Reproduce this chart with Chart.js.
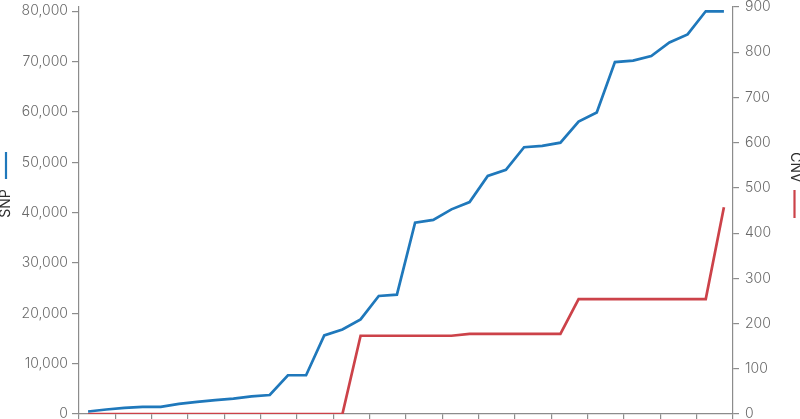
<!DOCTYPE html>
<html>
<head>
<meta charset="utf-8">
<script src="https://cdn.jsdelivr.net/npm/chart.js@4.4.1/dist/chart.umd.min.js"></script>
<style>
  html, body { margin: 0; padding: 0; background: #fff; }
  #wrap { width: 800px; height: 419px; position: relative; }
</style>
</head>
<body>
<div id="wrap"><canvas id="chart"></canvas></div>
<script>
// categorias (sem rótulos visíveis no original)
const samples = ['1', '2', '3', '4', '5', '6', '7', '8', '9', '10', '11', '12',
  '13', '14', '15', '16', '17', '18', '19', '20', '21', '22', '23', '24',
  '25', '26', '27', '28', '29', '30', '31', '32', '33', '34', '35', '36'];

// SNP acumulado (eixo esquerdo)
const snpValues = [500, 900, 1200, 1400, 1400, 2000, 2400, 2750, 3050, 3500, 3770, 7700,
  7700, 15600, 16800, 18800, 23450, 23700, 38000, 38550, 40650, 42100, 47300, 48500,
  53000, 53250, 53900, 58100, 59900, 69900, 70200, 71100, 73800, 75400, 80000, 80000];

// CNV acumulado (eixo direito)
const cnvValues = [0, 0, 0, 0, 0, 0, 0, 0, 0, 0, 0, 0,
  0, 0, 0, 173, 173, 173, 173, 173, 173, 177, 177, 177,
  177, 177, 177, 254, 254, 254, 254, 254, 254, 254, 254, 457];

const snpTicks = [0, 10000, 20000, 30000, 40000, 50000, 60000, 70000, 80000];
const cnvTicks = [0, 100, 200, 300, 400, 500, 600, 700, 800, 900];

const blue = '#1f78bb';
const red = '#cc4249';
const axisGrey = '#8c8c8c';
const labelGrey = '#6a6a6a';
const tickFont = { family: 'Inter, Lato, sans-serif', size: 14, weight: 300 };

// títulos dos eixos com o traço da legenda
const axisTitles = {
    id: 'axisTitles',
    afterDraw(chart) {
        const ctx = chart.ctx;
        ctx.save();
        ctx.font = '400 14px Inter, Lato, sans-serif';
        ctx.fillStyle = '#2e2e2e';
        ctx.textAlign = 'center';
        ctx.textBaseline = 'middle';

        ctx.save();
        ctx.translate(6, 203.5);
        ctx.rotate(-Math.PI / 2);
        ctx.fillText('SNP', 0, 0);
        ctx.restore();

        ctx.save();
        ctx.translate(795, 167.5);
        ctx.rotate(Math.PI / 2);
        ctx.fillText('CNV', 0, 0);
        ctx.restore();

        ctx.lineWidth = 2.2;
        ctx.strokeStyle = blue;
        ctx.beginPath();
        ctx.moveTo(6, 152);
        ctx.lineTo(6, 179);
        ctx.stroke();

        ctx.strokeStyle = red;
        ctx.beginPath();
        ctx.moveTo(794.5, 190);
        ctx.lineTo(794.5, 218);
        ctx.stroke();
        ctx.restore();
    }
};

function noPad(scale) {
    scale.paddingTop = 0;
    scale.paddingBottom = 0;
    scale.paddingLeft = 0;
    scale.paddingRight = 0;
}

new Chart(document.getElementById('chart'), {
    type: 'line',
    data: {
        labels: samples,
        datasets: [{
            label: 'SNP',
            data: snpValues,
            yAxisID: 'ySnp',
            borderColor: blue,
            borderWidth: 2.7,
            pointRadius: 0,
            tension: 0,
            fill: false
        }, {
            label: 'CNV',
            data: cnvValues,
            yAxisID: 'yCnv',
            borderColor: red,
            borderWidth: 2.7,
            pointRadius: 0,
            tension: 0,
            fill: false
        }]
    },
    options: {
        responsive: true,
        maintainAspectRatio: false,
        animation: false,
        locale: 'en-US',
        layout: { padding: { top: 7, left: 0, right: 0, bottom: 0 } },
        plugins: {
            legend: { display: false },
            tooltip: { enabled: false }
        },
        scales: {
            x: {
                type: 'category',
                offset: true,
                grid: {
                    offset: true,
                    drawOnChartArea: false,
                    drawTicks: true,
                    tickLength: 5,
                    lineWidth: 1.2,
                    color: ctx => (ctx.index === undefined || ctx.index % 2 === 0) ? axisGrey : 'rgba(0,0,0,0)'
                },
                border: { display: true, color: axisGrey, width: 1.2 },
                ticks: { display: false },
                afterFit: scale => { scale.height = 5; noPad(scale); }
            },
            ySnp: {
                type: 'linear',
                position: 'left',
                min: 0,
                max: 80850,
                afterBuildTicks: scale => { scale.ticks = snpTicks.map(v => ({ value: v })); },
                grid: { drawOnChartArea: false, tickLength: 7, color: axisGrey, lineWidth: 1.2 },
                border: { display: true, color: axisGrey, width: 1.2 },
                ticks: { color: labelGrey, font: tickFont, padding: 4 },
                afterFit: scale => { scale.width = 79; noPad(scale); }
            },
            yCnv: {
                type: 'linear',
                position: 'right',
                min: 0,
                max: 900,
                afterBuildTicks: scale => { scale.ticks = cnvTicks.map(v => ({ value: v })); },
                grid: { drawOnChartArea: false, tickLength: 6, color: axisGrey, lineWidth: 1.2 },
                border: { display: true, color: axisGrey, width: 1.2 },
                ticks: { color: labelGrey, font: tickFont, padding: 6 },
                afterFit: scale => { scale.width = 67; noPad(scale); }
            }
        }
    },
    plugins: [axisTitles]
});
</script>
</body>
</html>
